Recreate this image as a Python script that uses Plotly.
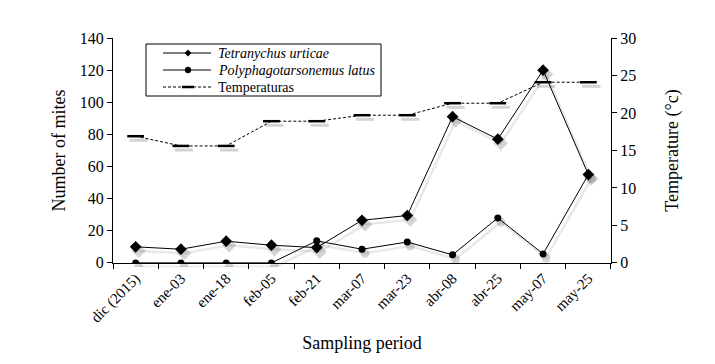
import plotly.graph_objects as go

categories = ["dic (2015)", "ene-03", "ene-18", "feb-05", "feb-21", "mar-07",
              "mar-23", "abr-08", "abr-25", "may-07", "may-25"]
tetranychus = [10, 8.5, 13.5, 11, 9.5, 26.5, 29.5, 91, 77, 120, 55]
polyphago = [0, 0, 0, 0, 13.7, 8.5, 13, 5, 28, 5.6, 55]
temperaturas = [16.9, 15.6, 15.6, 18.9, 18.9, 19.7, 19.7, 21.3, 21.3, 24.1, 24.1]
legend_names = ["<i>Tetranychus urticae</i>", "<i>Polyphagotarsonemus latus</i>", "Temperaturas"]

FONT = "Liberation Serif, Times New Roman, Times, serif"
SHADOW_LINE = "rgba(0,0,0,0.09)"
SHADOW_MARK = "rgba(0,0,0,0.17)"

W, H, L, R, T, B = 707, 356, 105, 101, 30, 97
PW, PH = W - L - R, H - T - B
OX, OY = 8, 8  # page offset of the plot div


def px(X):
    return (X - OX - L) / PW


def py(Y):
    return (OY + T + PH - Y) / PH


fig = go.Figure()

fig.add_trace(go.Scatter(
    x=categories, y=tetranychus, name=legend_names[0], showlegend=False,
    mode="lines+markers", line=dict(color="black", width=1),
    marker=dict(symbol="diamond", size=9, color="black")))
fig.add_trace(go.Scatter(
    x=categories, y=polyphago, name=legend_names[1], showlegend=False,
    mode="lines+markers", line=dict(color="black", width=1),
    marker=dict(symbol="circle", size=7, color="black")))
fig.add_trace(go.Scatter(
    x=categories, y=temperaturas, name=legend_names[2], yaxis="y2", showlegend=False,
    mode="lines+markers", line=dict(color="black", width=1, dash="3px,2px"),
    marker=dict(symbol="line-ew", size=12, line=dict(color="black", width=2.5))))

# soft drop shadows (same data on slightly offset, hidden axes)
fig.add_trace(go.Scatter(
    x=categories, y=tetranychus, xaxis="x3", yaxis="y3", showlegend=False,
    hoverinfo="skip", mode="lines+markers", line=dict(color=SHADOW_LINE, width=2.5),
    marker=dict(symbol="diamond", size=11, color=SHADOW_MARK)))
fig.add_trace(go.Scatter(
    x=categories, y=polyphago, xaxis="x3", yaxis="y3", showlegend=False,
    hoverinfo="skip", mode="lines+markers", line=dict(color=SHADOW_LINE, width=2.5),
    marker=dict(symbol="circle", size=9, color=SHADOW_MARK)))
fig.add_trace(go.Scatter(
    x=categories, y=temperaturas, xaxis="x3", yaxis="y4", showlegend=False,
    hoverinfo="skip", mode="markers",
    marker=dict(symbol="line-ew", size=13, line=dict(color=SHADOW_MARK, width=3))))

# legend box drawn with shapes + text
shapes = [dict(type="rect", xref="paper", yref="paper", layer="above",
               x0=px(146), x1=px(381), y0=py(96), y1=py(44),
               line=dict(color="black", width=1), fillcolor="white")]
annotations = []
rows = [53, 70, 87]
for i, Y in enumerate(rows):
    dash = "solid" if i < 2 else "3px,2px"
    shapes.append(dict(type="line", xref="paper", yref="paper", layer="above",
                       x0=px(163), x1=px(211), y0=py(Y), y1=py(Y),
                       line=dict(color="black", width=1, dash=dash)))
    annotations.append(dict(text=legend_names[i], xref="paper", yref="paper",
                            x=px(217), y=py(Y), xanchor="left", yanchor="middle",
                            showarrow=False, borderpad=0,
                            font=dict(family=FONT, size=14, color="black")))
cx = 188
# diamond
d = 3.2
shapes.append(dict(type="path", xref="paper", yref="paper", layer="above",
                   path=f"M {px(cx)},{py(rows[0]-d)} L {px(cx+d)},{py(rows[0])} "
                        f"L {px(cx)},{py(rows[0]+d)} L {px(cx-d)},{py(rows[0])} Z",
                   fillcolor="black", line=dict(color="black", width=0.5)))
# circle
r = 3
shapes.append(dict(type="circle", xref="paper", yref="paper", layer="above",
                   x0=px(cx-r), x1=px(cx+r), y0=py(rows[1]+r), y1=py(rows[1]-r),
                   fillcolor="black", line=dict(color="black", width=0.5)))
# dash marker
shapes.append(dict(type="line", xref="paper", yref="paper", layer="above",
                   x0=px(cx-6), x1=px(cx+6), y0=py(rows[2]), y1=py(rows[2]),
                   line=dict(color="black", width=2.5)))

XD = [0, 0.994]
YD = [0.018, 1]
XS = [0.006, 1]
YS = [0, 0.982]

fig.update_layout(
    width=W, height=H,
    margin=dict(l=L, r=R, t=T, b=B),
    paper_bgcolor="white", plot_bgcolor="rgba(0,0,0,0)",
    font=dict(family=FONT, color="black", size=16),
    showlegend=False,
    shapes=shapes, annotations=annotations,
    xaxis=dict(type="category", domain=XD, showline=True, linecolor="black", linewidth=1,
               ticks="outside", tickcolor="black", ticklen=5,
               tickson="boundaries", tickangle=-45, automargin=False,
               tickfont=dict(family=FONT, size=15),
               title=dict(text="Sampling period", font=dict(family=FONT, size=18), standoff=10),
               showgrid=False, range=[-0.5, 10.5]),
    yaxis=dict(range=[0, 140], dtick=20, domain=YD, showline=True, linecolor="black", linewidth=1,
               ticks="outside", tickcolor="black", ticklen=5, showgrid=False,
               zeroline=False, automargin=False, tickfont=dict(family=FONT, size=16),
               title=dict(text="Number of mites", font=dict(family=FONT, size=18), standoff=9)),
    yaxis2=dict(range=[0, 30], dtick=5, overlaying="y", side="right",
                showline=True, linecolor="black", linewidth=1,
                ticks="outside", tickcolor="black", ticklen=5, showgrid=False,
                zeroline=False, automargin=False, tickfont=dict(family=FONT, size=16),
                title=dict(text="Temperature (°c)", font=dict(family=FONT, size=18), standoff=30)),
    xaxis3=dict(type="category", domain=XS, anchor="y3", range=[-0.5, 10.5], visible=False),
    yaxis3=dict(range=[0, 140], domain=YS, anchor="x3", visible=False),
    yaxis4=dict(range=[0, 30], overlaying="y3", anchor="x3", visible=False),
)

fig.write_html("out.html")
